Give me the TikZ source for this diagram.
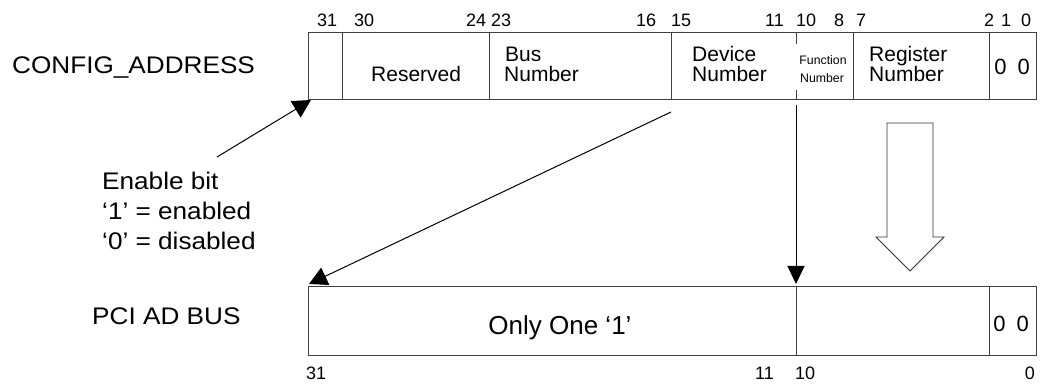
\documentclass[tikz,border=0pt]{standalone}
\usepackage{fontspec}
\setmainfont{Liberation Sans}
\newfontfamily\widefont[FakeStretch=1.09]{Liberation Sans}
\usetikzlibrary{arrows.meta}
\begin{document}
\begin{tikzpicture}[x=1pt,y=-1pt,
  box/.style={draw=black!75, line width=1pt},
  num/.style={font=\fontsize{18}{20}\selectfont, inner sep=0pt, anchor=base west},
  fld/.style={font=\fontsize{21}{23}\selectfont, inner sep=0pt, anchor=base west},
  zz/.style={font=\fontsize{22}{24}\selectfont, inner sep=0pt, anchor=base},
  tinyf/.style={font=\fontsize{12.3}{14}\selectfont, inner sep=0pt, anchor=base},
  lbl/.style={font=\widefont\fontsize{24}{26}\selectfont, inner sep=0pt, anchor=base west},
  ptr/.style={draw=black, line width=1pt, -{Triangle[length=18pt,width=19pt]}},
  hollow/.style={draw=black!80, line width=0.9pt, fill=white},
]
\useasboundingbox (0,0) rectangle (1042,387);

% ---- CONFIG_ADDRESS register ----
\coordinate (ctl) at (308,33);
\coordinate (cbr) at (1036,100);
\draw[box] (ctl) rectangle (cbr);
\foreach \x in {342,489,671,853,989} \draw[box] (\x,33) -- (\x,100);
\draw[box] (796,33) -- (796,44);
\draw[box] (796,90) -- (796,100);

% bit numbers (top)
\node[num] (n31) at (317,26.7) {31};
\node[num] (n30) at (354,26.7) {30};
\node[num] (n24) at (466,26.7) {24};
\node[num] (n23) at (491,26.7) {23};
\node[num] (n16) at (636,26.7) {16};
\node[num] (n15) at (671,26.7) {15};
\node[num] (n11) at (765,26.7) {11};
\node[num] (n10) at (796,26.7) {10};
\node[num] (n8)  at (834,26.7) {8};
\node[num] (n7)  at (856,26.7) {7};
\node[num] (n2)  at (984,26.7) {2};
\node[num] (n1)  at (1001,26.7) {1};
\node[num] (n0)  at (1021,26.7) {0};

% field labels
\node[fld] (res) at (371,81.7) {Reserved};
\node[fld] (bus1) at (505,61.5) {Bus};
\node[fld] (bus2) at (504,82) {Number};
\node[fld] (dev1) at (692,61.5) {Device};
\node[fld] (dev2) at (692,82) {Number};
\node[tinyf] (fun1) at (823,64.5) {Function};
\node[tinyf] (fun2) at (822,83) {Number};
\node[fld] (reg1) at (869,61.5) {Register};
\node[fld] (reg2) at (869,82) {Number};
\node[zz] (low1) at (1012,75) {0\hspace{11pt}0};

% ---- PCI AD BUS ----
\coordinate (ptl) at (308,287);
\coordinate (pbr) at (1036,356);
\draw[box] (ptl) rectangle (pbr);
\draw[box] (796,287) -- (796,356);
\draw[box] (989,287) -- (989,356);
\node[font=\fontsize{26}{28}\selectfont, inner sep=0pt, anchor=base] (one) at (560,335) {Only One ‘1’};
\node[zz] (low2) at (1011,331.7) {0\hspace{11pt}0};

% bit numbers (bottom)
\node[num] (b31) at (306,380) {31};
\node[num, anchor=base east] (b11) at (774,380) {11};
\node[num] (b10) at (795,380) {10};
\node[num, anchor=base east] (b0) at (1035,380) {0};

% ---- left labels ----
\node[lbl] (cfg) at (12,73.3) {CONFIG\_ADDRESS};
\node[lbl] (en1) at (102,190) {Enable bit};
\node[lbl] (en2) at (102,220) {‘1’ = enabled};
\node[lbl] (en3) at (102,250) {‘0’ = disabled};
\node[lbl] (pci) at (92,325) {PCI AD BUS};

% ---- arrows ----
\coordinate (enstart) at (217,157);
\coordinate (entip) at (311,100);
\draw[ptr] (enstart) -- (entip);

\coordinate (devstart) at (671,112);
\coordinate (devtip) at (309,284);
\draw[ptr] (devstart) -- (devtip);

\coordinate (funstart) at (796,105);
\coordinate (funtip) at (796,284);
\draw[ptr, -{Triangle[length=18pt,width=17pt]}] (funstart) -- (funtip);

% hollow block arrow
\draw[hollow] (887,123) -- (933,123) -- (933,237) -- (944,237) -- (910,271)
  -- (876,237) -- (887,237) -- cycle;
\end{tikzpicture}
\end{document}
